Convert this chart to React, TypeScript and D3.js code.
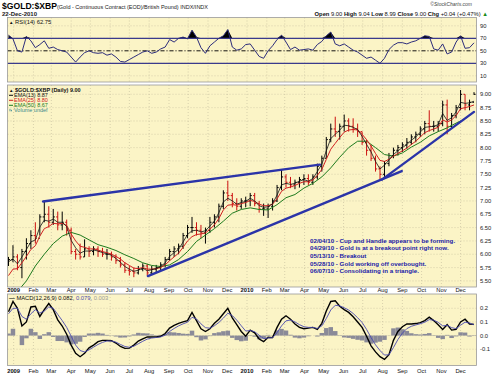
import React from "react";
import * as d3 from "d3";

// weekly samples; first bar = week of 24 Dec 2008, one bar every 7 days
const firstWeek = new Date(2008, 11, 24);

const priceHigh = [
  5.95, 6.17, 6.0, 6.1, 6.3, 6.45, 6.6, 6.75, 7.0, 6.9,
  6.85, 6.8, 6.8, 6.65, 6.5, 6.1, 6.2, 6.28, 6.15, 6.15,
  6.15, 6.12, 6.1, 6.05, 6.0, 5.95, 5.85, 5.78, 5.75, 5.78,
  5.83, 5.82, 5.78, 5.8, 5.85, 5.95, 6.1, 6.15, 6.2, 6.4,
  6.55, 6.7, 6.6, 6.55, 6.5, 6.7, 6.75, 6.95, 7.2, 7.38,
  7.15, 7.05, 7.05, 7.08, 7.15, 7.15, 7.0, 6.95, 6.95, 7.05,
  7.3, 7.58, 7.5, 7.45, 7.4, 7.45, 7.5, 7.5, 7.5, 7.7,
  7.85, 8.2, 8.45, 8.58, 8.45, 8.62, 8.55, 8.55, 8.45, 8.3,
  8.15, 8.05, 7.85, 7.65, 7.75, 7.9, 8.0, 8.05, 8.1, 8.18,
  8.25, 8.3, 8.4, 8.5, 8.7, 8.5, 8.5, 8.88, 8.9, 8.65,
  8.8, 9.08, 9.0, 8.9, 9.04,
];
const priceLow = [
  5.78, 5.85, 5.7, 5.55, 5.9, 6.1, 6.2, 6.35, 6.6, 6.5,
  6.55, 6.45, 6.45, 6.35, 6.0, 5.9, 5.9, 5.95, 5.95, 5.98,
  5.95, 5.95, 5.9, 5.88, 5.82, 5.75, 5.65, 5.6, 5.57, 5.62,
  5.68, 5.6, 5.62, 5.66, 5.7, 5.75, 5.88, 5.95, 6.0, 6.1,
  6.3, 6.4, 6.35, 6.3, 6.2, 6.4, 6.5, 6.6, 6.85, 7.0,
  6.88, 6.82, 6.85, 6.88, 6.9, 6.9, 6.78, 6.72, 6.68, 6.82,
  6.98, 7.2, 7.25, 7.24, 7.22, 7.25, 7.3, 7.3, 7.3, 7.4,
  7.55, 7.8, 8.1, 8.2, 8.15, 8.3, 8.3, 8.28, 8.2, 8.05,
  7.85, 7.75, 7.55, 7.4, 7.45, 7.65, 7.8, 7.85, 7.92, 7.98,
  8.05, 8.1, 8.2, 8.25, 8.3, 8.3, 8.3, 8.4, 8.25, 8.35,
  8.55, 8.7, 8.7, 8.7, 8.99,
];
const priceClose = [
  5.9, 5.95, 5.75, 6.05, 6.2, 6.35, 6.3, 6.7, 6.75, 6.6,
  6.7, 6.55, 6.6, 6.45, 6.05, 6.0, 5.95, 6.1, 6.05, 6.1,
  6.05, 6.0, 6.0, 5.95, 5.88, 5.8, 5.7, 5.68, 5.65, 5.72,
  5.78, 5.65, 5.72, 5.75, 5.8, 5.9, 6.05, 6.1, 6.15, 6.35,
  6.5, 6.5, 6.45, 6.4, 6.45, 6.6, 6.7, 6.9, 7.15, 7.1,
  6.95, 6.9, 7.0, 7.0, 7.1, 6.95, 6.85, 6.85, 6.9, 7.0,
  7.25, 7.45, 7.35, 7.3, 7.35, 7.4, 7.42, 7.35, 7.45, 7.65,
  7.8, 8.15, 8.35, 8.3, 8.4, 8.5, 8.4, 8.35, 8.3, 8.1,
  7.95, 7.8, 7.6, 7.5, 7.7, 7.85, 7.95, 8.0, 8.05, 8.1,
  8.2, 8.25, 8.35, 8.45, 8.4, 8.4, 8.45, 8.8, 8.4, 8.6,
  8.75, 9.0, 8.8, 8.85, 9.0,
];
const ema13 = [
  5.86, 5.91, 5.82, 5.95, 6.09, 6.23, 6.27, 6.51, 6.64, 6.62,
  6.66, 6.6, 6.6, 6.52, 6.26, 6.12, 6.02, 6.06, 6.06, 6.08,
  6.06, 6.03, 6.01, 5.98, 5.92, 5.85, 5.77, 5.72, 5.68, 5.7,
  5.74, 5.69, 5.71, 5.73, 5.77, 5.84, 5.96, 6.03, 6.09, 6.23,
  6.37, 6.44, 6.45, 6.42, 6.44, 6.53, 6.62, 6.78, 6.98, 7.05,
  7.0, 6.94, 6.97, 6.99, 7.05, 7.0, 6.91, 6.88, 6.89, 6.95,
  7.11, 7.3, 7.33, 7.31, 7.33, 7.37, 7.4, 7.37, 7.42, 7.55,
  7.69, 7.94, 8.17, 8.25, 8.33, 8.42, 8.41, 8.38, 8.34, 8.21,
  8.06, 7.92, 7.74, 7.6, 7.67, 7.77, 7.87, 7.94, 8.0, 8.06,
  8.14, 8.2, 8.29, 8.38, 8.39, 8.4, 8.43, 8.64, 8.51, 8.56,
  8.67, 8.85, 8.83, 8.84, 8.87,
];
const ema25 = [
  5.6, 5.72, 5.73, 5.84, 5.96, 6.09, 6.16, 6.34, 6.48, 6.52,
  6.58, 6.57, 6.58, 6.54, 6.38, 6.25, 6.15, 6.13, 6.1, 6.1,
  6.08, 6.05, 6.03, 6.0, 5.96, 5.91, 5.84, 5.79, 5.74, 5.73,
  5.75, 5.72, 5.72, 5.73, 5.75, 5.8, 5.88, 5.95, 6.02, 6.13,
  6.25, 6.33, 6.37, 6.38, 6.4, 6.47, 6.55, 6.67, 6.83, 6.92,
  6.93, 6.92, 6.95, 6.97, 7.01, 6.99, 6.94, 6.91, 6.91, 6.94,
  7.04, 7.18, 7.24, 7.26, 7.29, 7.33, 7.36, 7.36, 7.39, 7.48,
  7.59, 7.78, 7.97, 8.08, 8.19, 8.29, 8.33, 8.34, 8.33, 8.25,
  8.15, 8.03, 7.89, 7.76, 7.74, 7.78, 7.84, 7.89, 7.94, 7.99,
  8.06, 8.12, 8.2, 8.28, 8.32, 8.35, 8.38, 8.52, 8.48, 8.52,
  8.6, 8.73, 8.75, 8.77, 8.8,
];
// one value every second week
const ema50 = [
  5.15, 5.3, 5.5, 5.78, 6.0, 6.2, 6.34, 6.41, 6.36, 6.27,
  6.18, 6.13, 6.07, 5.99, 5.92, 5.84, 5.79, 5.77, 5.8, 5.9,
  6.05, 6.24, 6.36, 6.48, 6.62, 6.77, 6.84, 6.87, 6.84, 6.83,
  6.93, 7.06, 7.12, 7.24, 7.33, 7.45, 7.62, 7.82, 8.0, 8.12,
  8.12, 8.0, 7.87, 7.84, 7.9, 8.01, 8.1, 8.22, 8.3, 8.37,
  8.46, 8.54, 8.67,
];
const rsi14 = [
  75, 69, 50, 48, 73, 66, 55, 60, 66, 54,
  56, 52, 50, 48, 40, 32, 40, 47, 50, 47,
  46, 47, 43, 45, 40, 33, 32, 36, 40, 44,
  48, 50, 46, 48, 53, 56, 68, 64, 70, 72,
  69, 83, 72, 55, 46, 58, 64, 70, 74, 84,
  56, 51, 53, 60, 61, 51, 41, 38, 50, 58,
  68, 75, 64, 52, 56, 51, 52, 53, 51, 60,
  65, 74, 80, 61, 58, 61, 56, 51, 48, 43,
  38, 40, 35, 30, 38, 52, 59, 63, 63, 61,
  64, 66, 70, 74, 73, 53, 51, 61, 45, 48,
  64, 74, 54, 55, 62.75,
];
const macdLine = [
  0.175, 0.25, 0.2, 0.07, 0.1, 0.21, 0.215, 0.14, 0.19, 0.235,
  0.19, 0.115, 0.07, 0.01, -0.07, -0.13, -0.155, -0.13, -0.09, -0.07,
  -0.045, -0.035, -0.035, -0.038, -0.055, -0.08, -0.094, -0.092, -0.07, -0.04,
  -0.025, -0.01, -0.01, -0.01, -0.005, 0.015, 0.055, 0.075, 0.09, 0.1,
  0.11, 0.17, 0.11, 0.05, 0.03, 0.05, 0.09, 0.12, 0.16, 0.2,
  0.13, 0.08, 0.03, -0.005, 0.04, 0.02, -0.025, -0.045, -0.012, -0.015,
  0.06, 0.12, 0.145, 0.12, 0.085, 0.06, 0.05, 0.055, 0.06, 0.045,
  0.09, 0.18, 0.25, 0.255, 0.215, 0.19, 0.17, 0.138, 0.1, 0.06,
  -0.005, -0.075, -0.12, -0.155, -0.175, -0.14, -0.035, 0.03, 0.065, 0.085,
  0.085, 0.088, 0.095, 0.11, 0.135, 0.11, 0.08, 0.045, 0.08, 0.04,
  0.045, 0.1, 0.12, 0.085, 0.082,
];
const macdSignal = [
  0.16, 0.2, 0.2, 0.14, 0.12, 0.16, 0.19, 0.165, 0.18, 0.21,
  0.2, 0.155, 0.11, 0.06, -0.005, -0.07, -0.11, -0.12, -0.105, -0.085,
  -0.065, -0.05, -0.04, -0.04, -0.048, -0.065, -0.08, -0.086, -0.078, -0.06,
  -0.042, -0.026, -0.018, -0.014, -0.01, 0.003, 0.03, 0.052, 0.071, 0.086,
  0.098, 0.134, 0.122, 0.086, 0.058, 0.054, 0.072, 0.096, 0.128, 0.164,
  0.147, 0.113, 0.072, 0.033, 0.037, 0.028, 0.002, -0.022, -0.017, -0.016,
  0.022, 0.071, 0.108, 0.114, 0.1, 0.08, 0.065, 0.06, 0.06, 0.052,
  0.071, 0.125, 0.188, 0.222, 0.218, 0.204, 0.187, 0.162, 0.131, 0.096,
  0.045, -0.015, -0.068, -0.11, -0.143, -0.141, -0.088, -0.029, 0.018, 0.051,
  0.068, 0.078, 0.087, 0.098, 0.117, 0.113, 0.097, 0.071, 0.075, 0.058,
  0.051, 0.076, 0.098, 0.092, 0.079,
];

const rsiTicks = [90, 70, 50, 30, 10];
const priceTicks = [9.0, 8.75, 8.5, 8.25, 8.0, 7.75, 7.5, 7.25, 7.0, 6.75, 6.5, 6.25, 6.0, 5.75, 5.5];
const macdTicks = [0.2, 0.1, 0.0, -0.1];

const trendLines: [string, number][][] = [
  [["2009-02-16", 6.99], ["2010-04-25", 7.68]],
  [["2009-07-30", 5.59], ["2010-08-31", 7.56]],
  [["2010-07-31", 7.4], ["2010-12-22", 8.67]],
];

const notes = [
  "02/04/10 - Cup and Handle appears to be forming.",
  "04/29/10 - Gold is at a breakout point right now.",
  "05/13/10 - Breakout",
  "05/28/10 - Gold working off overbought.",
  "06/07/10 - Consolidating in a triangle.",
];

const L = 7.5, R = 476.5;
const rsiBox = [17.5, 82];
const priceBox = [85, 287];
const macdBox = [294, 365.5];

const bg = "#fbf4c6";
const gridColor = "#c9c2a0";
const font = "'Liberation Sans', Arial, sans-serif";

export default function App() {
  const parse = d3.timeParse("%Y-%m-%d");
  const weeks = priceClose.map((_, i) => d3.timeDay.offset(firstWeek, i * 7));
  const x = d3.scaleTime().domain([weeks[0], weeks[weeks.length - 1]]).range([8.5, 474]);
  const yP = d3.scaleLinear().domain([5.5, 9]).range([280.9, 94.3]);
  const yR = d3.scaleLinear().domain([30, 70]).range([63.3, 38.3]);
  const yM = d3.scaleLinear().domain([-0.1, 0.2]).range([349.2, 308.3]);
  const months = d3.timeMonth.range(new Date(2009, 0, 1), new Date(2010, 11, 23));
  const barW = x(weeks[1]) - x(weeks[0]);

  const lineOf = (vals: number[], y: (v: number) => number, step = 1) =>
    d3.line<number>().x((_, i) => x(weeks[i * step])).y((d) => y(d))(vals) || "";

  const rsiOver = d3.area<number>().x((_, i) => x(weeks[i])).y0(yR(70)).y1((d) => yR(Math.max(d, 70)))(rsi14) || "";
  const rsiUnder = d3.area<number>().x((_, i) => x(weeks[i])).y0(yR(30)).y1((d) => yR(Math.min(d, 30)))(rsi14) || "";

  const panel = (box: number[], id: string) => (
    <g>
      <rect x={L} y={box[0]} width={R - L} height={box[1] - box[0]} fill={bg} />
      {months.map((m, i) => (
        <line key={id + i} x1={x(m)} x2={x(m)} y1={box[0]} y2={box[1]} stroke={gridColor} strokeWidth={0.7} strokeDasharray="1,2" />
      ))}
    </g>
  );
  const border = (box: number[]) => (
    <rect x={L} y={box[0]} width={R - L} height={box[1] - box[0]} fill="none" stroke="#9a9a9a" strokeWidth={0.8} />
  );
  const hGrid = (vals: number[], y: (v: number) => number, key: string) =>
    vals.map((v, i) => (
      <line key={key + i} x1={L} x2={R} y1={y(v)} y2={y(v)} stroke={gridColor} strokeWidth={0.7} strokeDasharray="1,2" />
    ));
  const axisLabels = (vals: number[], y: (v: number) => number, fmt: (v: number) => string, key: string) =>
    vals.map((v, i) => (
      <text key={key + i} x={480} y={y(v) + 2} fontSize={5.8} fill="#222">{fmt(v)}</text>
    ));
  const dateRow = (yy: number, key: string) =>
    months.map((m, i) => (
      <text key={key + i} x={x(m)} y={yy} textAnchor="middle" fontSize={5.8}
        fontWeight={m.getMonth() === 0 ? "bold" : "normal"} fill="#111">
        {m.getMonth() === 0 ? d3.timeFormat("%Y")(m) : d3.timeFormat("%b")(m)}
      </text>
    ));

  return (
    <svg width={500} height={374} style={{ position: "absolute", left: 0, top: 0, background: "#fff" }} fontFamily={font}>
      <defs>
        <clipPath id="clipR"><rect x={L} y={rsiBox[0]} width={R - L} height={rsiBox[1] - rsiBox[0]} /></clipPath>
        <clipPath id="clipP"><rect x={L} y={priceBox[0]} width={R - L} height={priceBox[1] - priceBox[0]} /></clipPath>
        <clipPath id="clipM"><rect x={L} y={macdBox[0]} width={R - L} height={macdBox[1] - macdBox[0]} /></clipPath>
      </defs>

      {/* header */}
      <text x={2} y={9} fontSize={8.6} fontWeight="bold">$GOLD:$XBP</text>
      <text x={57} y={8.5} fontSize={5.5} fill="#222">(Gold - Continuous Contract (EOD)/British Pound) INDX/INDX</text>
      <text x={2} y={16} fontSize={6} fontWeight="bold" fill="#222">22-Dec-2010</text>
      <text x={472} y={6} fontSize={5} textAnchor="end" fontStyle="italic" fill="#444">©StockCharts.com</text>
      <text x={488} y={16} fontSize={5.8} textAnchor="end" fill="#111">
        <tspan fontWeight="bold">Open</tspan> 9.00 <tspan fontWeight="bold">High</tspan> 9.04{" "}
        <tspan fontWeight="bold">Low</tspan> 8.99 <tspan fontWeight="bold">Close</tspan> 9.00{" "}
        <tspan fontWeight="bold">Chg</tspan> +0.04 (+0.47%) <tspan fill="#1a8a1a">▲</tspan>
      </text>

      {/* RSI panel */}
      {panel(rsiBox, "gr")}
      {hGrid(rsiTicks, yR, "hr")}
      <g clipPath="url(#clipR)">
        <path d={rsiOver} fill="#000" />
        <path d={rsiUnder} fill="#000" />
        <line x1={L} x2={R} y1={yR(70)} y2={yR(70)} stroke="#3a3a8c" strokeWidth={1.3} />
        <line x1={L} x2={R} y1={yR(30)} y2={yR(30)} stroke="#3a3a8c" strokeWidth={1.3} />
        <line x1={L} x2={R} y1={yR(50)} y2={yR(50)} stroke="#000" strokeWidth={0.9} strokeDasharray="4,2,1,2" />
        <path d={lineOf(rsi14, yR)} fill="none" stroke="#2c2c7a" strokeWidth={1} />
      </g>
      {border(rsiBox)}
      <text x={9} y={23.5} fontSize={5.8} fill="#111"><tspan fontSize={4.5}>▲</tspan> RSI(14) 62.75</text>
      {axisLabels(rsiTicks, yR, (v) => String(v), "ar")}

      {/* price panel */}
      {panel(priceBox, "gp")}
      {hGrid(priceTicks, yP, "hp")}
      <g clipPath="url(#clipP)">
        {priceClose.map((c, i) => {
          const xi = x(weeks[i]);
          const open = i > 0 ? priceClose[i - 1] : c;
          const col = c >= open ? "#000" : "#cc1010";
          return (
            <g key={"b" + i} stroke={col} strokeWidth={1}>
              <line x1={xi} x2={xi} y1={yP(priceHigh[i])} y2={yP(priceLow[i])} />
              {i > 0 && <line x1={xi - 1.6} x2={xi} y1={yP(open)} y2={yP(open)} />}
              <line x1={xi} x2={xi + 1.6} y1={yP(c)} y2={yP(c)} />
            </g>
          );
        })}
        <path d={lineOf(ema50, yP, 2)} fill="none" stroke="#1d7a1d" strokeWidth={1} />
        <path d={lineOf(ema25, yP)} fill="none" stroke="#d02020" strokeWidth={1} />
        <path d={lineOf(ema13, yP)} fill="none" stroke="#111" strokeWidth={0.8} />
        {trendLines.map((t, i) => (
          <line key={"t" + i} x1={x(parse(t[0][0]) as Date)} y1={yP(t[0][1])} x2={x(parse(t[1][0]) as Date)} y2={yP(t[1][1])}
            stroke="#2b34a8" strokeWidth={2.4} strokeLinecap="round" />
        ))}
      </g>
      {border(priceBox)}
      <g fontSize={5.5}>
        <text x={9} y={92} fontWeight="bold" fill="#111"><tspan fontSize={4.5}>▲</tspan> $GOLD:$XBP (Daily) 9.00</text>
        <line x1={9} x2={13} y1={95.3} y2={95.3} stroke="#111" strokeWidth={1} />
        <text x={14} y={97.3} fill="#111">EMA(13) 8.87</text>
        <line x1={9} x2={13} y1={100.3} y2={100.3} stroke="#d02020" strokeWidth={1} />
        <text x={14} y={102.3} fill="#d02020">EMA(25) 8.80</text>
        <line x1={9} x2={13} y1={105.3} y2={105.3} stroke="#1d7a1d" strokeWidth={1} />
        <text x={14} y={107.3} fill="#1d7a1d">EMA(50) 8.67</text>
        <rect x={9.5} y={108.8} width={1} height={2.5} fill="#5a9a9a" />
        <rect x={11} y={109.8} width={1} height={1.5} fill="#5a9a9a" />
        <text x={14} y={112.3} fill="#3a8a8a">Volume undef</text>
      </g>
      {notes.map((n, i) => (
        <text key={"n" + i} x={310} y={242.5 + i * 7.7} fontSize={6.2} fontWeight="bold" fill="#1a1aa6">{n}</text>
      ))}
      {axisLabels(priceTicks, yP, (v) => v.toFixed(2), "ap")}
      {dateRow(292.3, "d1")}

      {/* MACD panel */}
      {panel(macdBox, "gm")}
      {hGrid(macdTicks, yM, "hm")}
      <g clipPath="url(#clipM)">
        {macdLine.map((m, i) => {
          const h = m - macdSignal[i];
          return (
            <rect key={"h" + i} x={x(weeks[i]) - barW / 2} width={barW}
              y={Math.min(yM(0), yM(h))} height={Math.abs(yM(h) - yM(0))} fill="#8a8a98" />
          );
        })}
        <path d={lineOf(macdLine, yM)} fill="none" stroke="#000" strokeWidth={1.4} />
        <path d={lineOf(macdSignal, yM)} fill="none" stroke="#4a4ab0" strokeWidth={0.9} />
      </g>
      {border(macdBox)}
      <text x={9} y={299.8} fontSize={5.8} fill="#111">
        <tspan fontWeight="bold">—</tspan> MACD(12,26,9) 0.082, <tspan fill="#4a4ab0">0.079,</tspan> <tspan fill="#999">0.003</tspan>
      </text>
      {axisLabels(macdTicks, yM, (v) => v.toFixed(1), "am")}
      {dateRow(372.5, "d2")}
    </svg>
  );
}
